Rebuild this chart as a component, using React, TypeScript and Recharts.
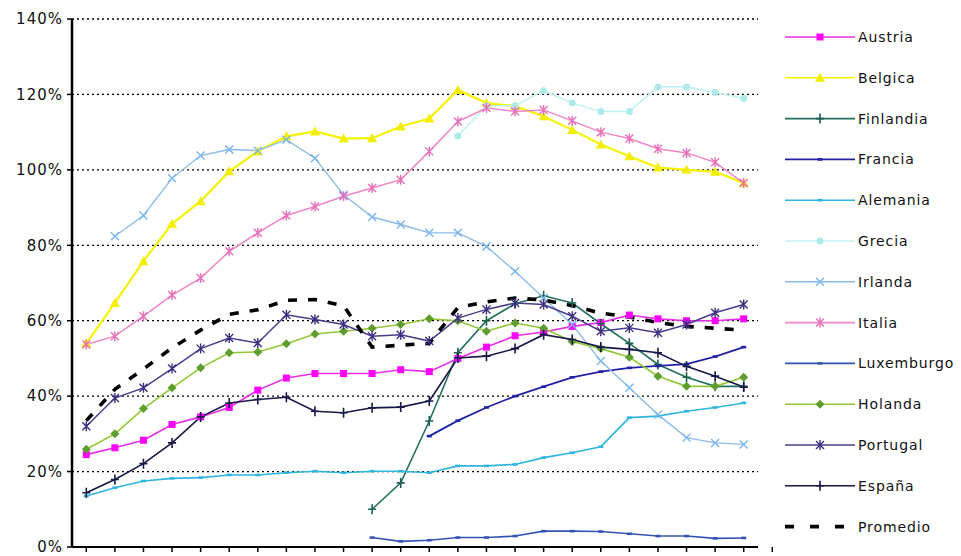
import { CartesianGrid, Line, LineChart, XAxis, YAxis } from "recharts";

// Años de la serie (eje X sin etiquetas, solo marcas entre categorías).
const YEARS = [
  "1980", "1981", "1982", "1983", "1984", "1985", "1986", "1987",
  "1988", "1989", "1990", "1991", "1992", "1993", "1994", "1995",
  "1996", "1997", "1998", "1999", "2000", "2001", "2002", "2003",
];

const Y_TICKS = [0, 20, 40, 60, 80, 100, 120, 140];

// Valores en % del PIB
const AUSTRIA = [24.5, 26.3, 28.3, 32.5, 34.5, 37, 41.6, 44.8, 46, 46, 46, 47, 46.5, 50, 53, 56, 57, 58.5, 59.5, 61.5, 60.5, 60, 60, 60.5];
const BELGICA = [54, 64.7, 75.8, 85.7, 91.7, 99.6, 104.9, 108.9, 110.2, 108.3, 108.4, 111.5, 113.6, 121.2, 117.7, 116.9, 114.2, 110.6, 106.7, 103.6, 100.6, 100, 99.5, 96.5];
const FINLANDIA = [null, null, null, null, null, null, null, null, null, null, 10, 17, 33.4, 51.5, 60, 64.5, 66.6, 64.7, 59.2, 54, 48.4, 45, 42.6, 42.6];
const FRANCIA = [null, null, null, null, null, null, null, null, null, null, null, null, 29.4, 33.5, 37, 40, 42.5, 45, 46.5, 47.5, 48, 48.5, 50.5, 53];
const ALEMANIA = [13.5, 15.7, 17.5, 18.2, 18.4, 19.1, 19.1, 19.7, 20.1, 19.7, 20.1, 20.1, 19.7, 21.5, 21.5, 21.9, 23.7, 25, 26.6, 34.3, 34.7, 36, 37, 38.2];
const GRECIA = [null, null, null, null, null, null, null, null, null, null, null, null, null, 109, 117, 117, 121, 117.7, 115.5, 115.5, 122, 122, 120.5, 119];
const IRLANDA = [null, 82.4, 87.9, 97.8, 103.8, 105.4, 105.1, 108, 103.1, 93.4, 87.5, 85.5, 83.3, 83.3, 79.7, 73.1, 66, 59, 49.3, 42.2, 35.1, 29, 27.6, 27.2];
const ITALIA = [53.7, 55.9, 61.2, 66.8, 71.3, 78.4, 83.3, 87.9, 90.3, 93, 95.2, 97.4, 104.9, 112.8, 116.4, 115.5, 115.9, 113, 110, 108.3, 105.6, 104.5, 102, 96.5];
const LUXEMBURGO = [null, null, null, null, null, null, null, null, null, null, 2.5, 1.5, 1.8, 2.5, 2.5, 2.9, 4.2, 4.2, 4.1, 3.5, 2.9, 2.9, 2.3, 2.4];
const HOLANDA = [25.9, 30, 36.7, 42.2, 47.5, 51.5, 51.7, 53.9, 56.5, 57.2, 58, 59, 60.5, 60, 57.2, 59.4, 58, 54.5, 52.6, 50.3, 45.3, 42.6, 42.6, 45];
const PORTUGAL = [32, 39.5, 42.2, 47.3, 52.6, 55.4, 54.1, 61.6, 60.3, 59, 55.9, 56.3, 54.6, 60.7, 63, 64.7, 64.3, 61.2, 57.2, 58.1, 56.8, 59, 62.1, 64.3];
const ESPANA = [14.4, 17.9, 22.1, 27.6, 34.5, 38.2, 39.1, 39.7, 36, 35.6, 36.9, 37.1, 38.7, 50.1, 50.6, 52.6, 56.3, 55, 53, 52.4, 51.5, 47.9, 45.3, 42.4];
const PROMEDIO = [33.5, 41.8, 47.2, 52.8, 57.5, 61.7, 62.9, 65.4, 65.6, 64, 53, 53.5, 54, 63.5, 65, 66, 65.5, 64, 62, 61, 59.5, 58.5, 58, 57.5];

type Shape = "square" | "triangle" | "plus" | "dash" | "circle" | "x" | "star" | "diamond" | "none";

const SERIES: { key: string; name: string; values: (number | null)[]; line: string; marker: string; shape: Shape; width: number; dash?: string }[] = [
  { key: "austria", name: "Austria", values: AUSTRIA, line: "#e52ee5", marker: "#ff00ff", shape: "square", width: 1.6 },
  { key: "belgica", name: "Belgica", values: BELGICA, line: "#f6f200", marker: "#f2ee00", shape: "triangle", width: 2.2 },
  { key: "finlandia", name: "Finlandia", values: FINLANDIA, line: "#24705f", marker: "#1d5f50", shape: "plus", width: 1.6 },
  { key: "francia", name: "Francia", values: FRANCIA, line: "#2222a6", marker: "#2222a6", shape: "dash", width: 1.8 },
  { key: "alemania", name: "Alemania", values: ALEMANIA, line: "#2fb6e0", marker: "#2fb6e0", shape: "dash", width: 1.6 },
  { key: "grecia", name: "Grecia", values: GRECIA, line: "#c4f2f2", marker: "#aeeaea", shape: "circle", width: 1.6 },
  { key: "irlanda", name: "Irlanda", values: IRLANDA, line: "#8dbbe6", marker: "#79b6ee", shape: "x", width: 1.4 },
  { key: "italia", name: "Italia", values: ITALIA, line: "#ef86c6", marker: "#e970b8", shape: "star", width: 1.5 },
  { key: "luxemburgo", name: "Luxemburgo", values: LUXEMBURGO, line: "#3454b4", marker: "#3454b4", shape: "dash", width: 1.6 },
  { key: "holanda", name: "Holanda", values: HOLANDA, line: "#92c838", marker: "#5f9e2e", shape: "diamond", width: 1.6 },
  { key: "portugal", name: "Portugal", values: PORTUGAL, line: "#4a3c8c", marker: "#3e2f80", shape: "star", width: 1.5 },
  { key: "espana", name: "España", values: ESPANA, line: "#161848", marker: "#161848", shape: "plus", width: 1.6 },
  { key: "promedio", name: "Promedio", values: PROMEDIO, line: "#000000", marker: "#000000", shape: "none", width: 3.6, dash: "9 11" },
];

const data = YEARS.map((year, i) => {
  const row: Record<string, string | number | null> = { year };
  SERIES.forEach((s) => {
    row[s.key] = s.values[i];
  });
  return row;
});

const PLOT_LEFT = 72;
const PLOT_RIGHT = 758;
const STEP = (PLOT_RIGHT - PLOT_LEFT) / YEARS.length;

function Marker({ shape, x, y, color }: { shape: Shape; x: number; y: number; color: string }) {
  switch (shape) {
    case "square":
      return <rect x={x - 3.5} y={y - 3.5} width={7} height={7} fill={color} />;
    case "triangle":
      return <polygon points={`${x},${y - 5} ${x + 5},${y + 4} ${x - 5},${y + 4}`} fill={color} />;
    case "diamond":
      return <polygon points={`${x},${y - 4.5} ${x + 4.5},${y} ${x},${y + 4.5} ${x - 4.5},${y}`} fill={color} />;
    case "circle":
      return <circle cx={x} cy={y} r={3.5} fill={color} />;
    case "plus":
      return <path d={`M${x},${y - 5}L${x},${y + 5}M${x - 4},${y}L${x + 4},${y}`} stroke={color} strokeWidth={1.6} fill="none" />;
    case "dash":
      return <path d={`M${x - 2.5},${y}L${x + 2.5},${y}`} stroke={color} strokeWidth={2.6} fill="none" />;
    case "x":
      return <path d={`M${x - 4},${y - 4}L${x + 4},${y + 4}M${x + 4},${y - 4}L${x - 4},${y + 4}`} stroke={color} strokeWidth={1.4} fill="none" />;
    case "star":
      return (
        <path
          d={`M${x - 4},${y - 4}L${x + 4},${y + 4}M${x + 4},${y - 4}L${x - 4},${y + 4}M${x},${y - 5}L${x},${y + 5}`}
          stroke={color}
          strokeWidth={1.4}
          fill="none"
        />
      );
    default:
      return null;
  }
}

function makeDot(shape: Shape, color: string) {
  return (p: any) => {
    if (p.cx == null || p.cy == null || p.value == null) return <g key={p.index} />;
    return (
      <g key={p.index}>
        <Marker shape={shape} x={p.cx} y={p.cy} color={color} />
      </g>
    );
  };
}

// marcas del eje X: recharts dibuja las de inicio de cada banda, falta la del extremo derecho
function EdgeTick(props: any) {
  const { x, y, index } = props;
  if (index !== YEARS.length - 1) return <g />;
  const axisY = y - 5;
  return <line x1={x + STEP} x2={x + STEP} y1={axisY} y2={axisY + 5} stroke="#000" strokeWidth={1.5} />;
}

function LegendBox() {
  return (
    <svg width={200} height={556} style={{ position: "absolute", left: 761, top: 0 }}>
      {SERIES.map((s, k) => {
        const cy = 37 + k * 40.8;
        return (
          <g key={s.key}>
            <line
              x1={24}
              x2={94}
              y1={cy}
              y2={cy}
              stroke={s.line}
              strokeWidth={s.dash ? 3.6 : 1.6}
              strokeDasharray={s.dash ? "9 16" : undefined}
            />
            <Marker shape={s.shape} x={59} y={cy} color={s.marker} />
            <text
              x={97}
              y={cy + 5}
              fontSize={14}
              fontFamily="DejaVu Sans, sans-serif"
              letterSpacing={0.9}
              fill="#111"
            >
              {s.name}
            </text>
          </g>
        );
      })}
    </svg>
  );
}

export default function App() {
  return (
    <div style={{ position: "absolute", left: 0, top: 0, width: 961, height: 556, background: "#fff" }}>
      <LineChart width={961} height={556} data={data} margin={{ top: 19, right: 961 - PLOT_RIGHT, bottom: 0, left: 0 }}>
        <CartesianGrid vertical={false} stroke="#000" strokeDasharray="2 3" strokeWidth={1.3} />
        <XAxis
          dataKey="year"
          scale="band"
          interval={0}
          height={9}
          tickSize={5}
          tickMargin={0}
          axisLine={{ stroke: "#000", strokeWidth: 2 }}
          tickLine={{ stroke: "#000", strokeWidth: 1.5 }}
          tick={EdgeTick}
        />
        <YAxis
          domain={[0, 140]}
          ticks={Y_TICKS}
          interval={0}
          width={PLOT_LEFT}
          tickSize={5}
          tickMargin={4}
          tickFormatter={(v) => `${v}%`}
          axisLine={{ stroke: "#000", strokeWidth: 2.5 }}
          tickLine={{ stroke: "#000", strokeWidth: 1.5 }}
          tick={{ fill: "#111", fontSize: 15, fontFamily: "DejaVu Sans, sans-serif", letterSpacing: 1 }}
        />
        {SERIES.map((s) => (
          <Line
            key={s.key}
            type="linear"
            dataKey={s.key}
            name={s.name}
            stroke={s.line}
            strokeWidth={s.width}
            strokeDasharray={s.dash}
            dot={s.shape === "none" ? false : makeDot(s.shape, s.marker)}
            activeDot={false}
            isAnimationActive={false}
          />
        ))}
      </LineChart>
      <LegendBox />
    </div>
  );
}
